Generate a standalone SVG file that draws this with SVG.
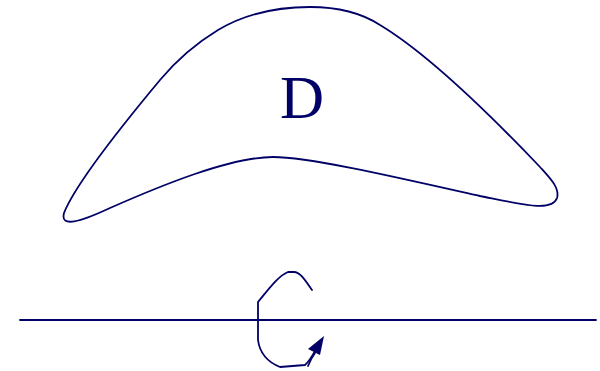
<svg xmlns="http://www.w3.org/2000/svg" width="600" height="371" viewBox="0 0 600 371">
<style>
.ln{fill:none;stroke:#000066;stroke-width:1.8;stroke-linejoin:round;stroke-linecap:round}
.lbl{font-family:"Liberation Serif",serif;font-size:61px;fill:#000066}
</style>
<rect width="600" height="371" fill="#fff"/>
<g id="region">
<path class="ln" d="M 273,157 C 310,157 400,178 480,196 C 525,205 552,212 557,198 C 560,188 550,178 540,167 C 500,125 430,55 380,25 C 360,12 335,7 310,7 C 270,7 240,17 218,30 C 195,44 175,62 160,80 C 120,128 75,185 64,213 C 60,228 80,222 110,208 C 160,186 230,157 273,157 Z"/>
<text class="lbl" x="302" y="118" text-anchor="middle">D</text>
</g>
<g id="axis">
<line class="ln" x1="20" y1="320" x2="596" y2="320"/>
</g>
<g id="rotation">
<path class="ln" d="M 312,290 C 305,280 300,272 294,272 L 288,272 C 278,276 268,290 258,302 L 258,340 C 260,355 270,363 280,367 L 305,365 C 311,360 314,352 319,344"/>
<path class="ln" d="M 308,366 C 310,361 312,357 315,353"/>
<polygon points="324,336 308,349 320,355" fill="#000066"/>
</g>
</svg>
